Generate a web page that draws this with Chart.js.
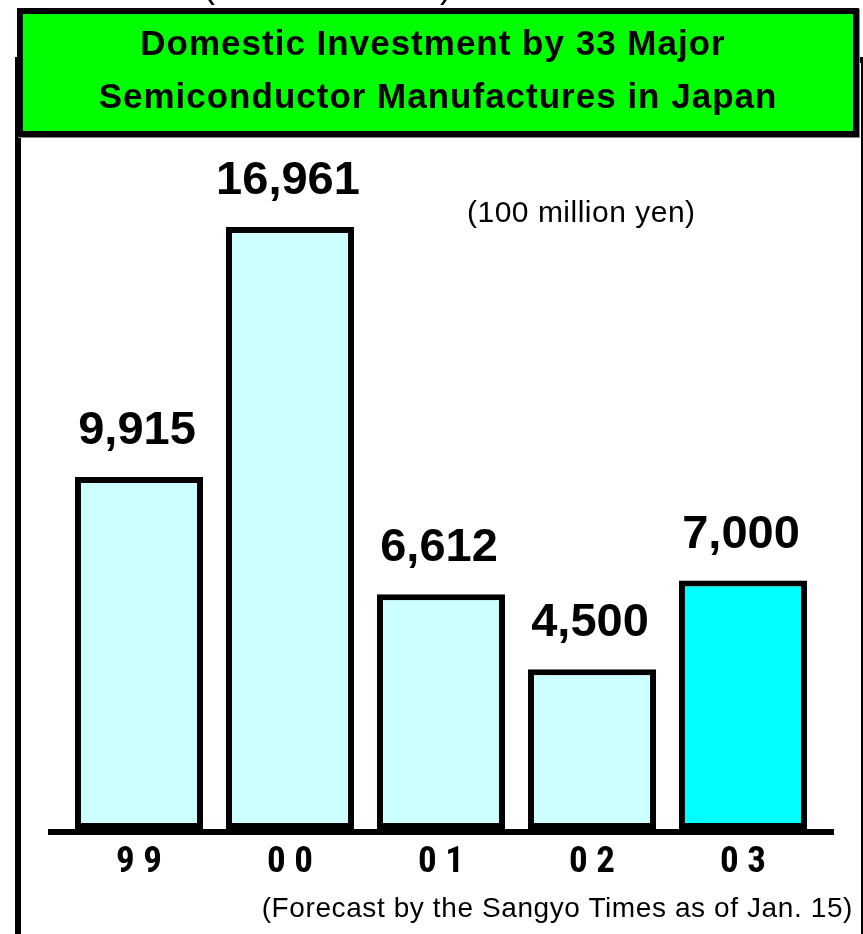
<!DOCTYPE html>
<html>
<head>
<meta charset="utf-8">
<script src="https://cdn.jsdelivr.net/npm/chart.js@4.4.1/dist/chart.umd.min.js"></script>
<style>
html,body{margin:0;padding:0;background:#fff;width:863px;height:934px;overflow:hidden;}
body{position:relative;font-family:'Liberation Sans',Arial,Helvetica,sans-serif;color:#000;}
#frame{position:absolute;left:15px;top:57px;width:852px;height:1000px;border:6px solid #000;box-sizing:border-box;}
#wrap{position:absolute;left:0;top:0;width:863px;height:934px;}
#titlebox{position:absolute;left:17px;top:8px;width:842px;height:129px;box-sizing:border-box;border:6px solid #000;background:#00ff00;box-shadow:1px 1px 0 #888;}
.tl{position:absolute;left:12px;width:842px;text-align:center;font-weight:bold;font-size:35px;line-height:35px;letter-spacing:1px;white-space:nowrap;}
.par{position:absolute;top:-33px;font-size:36px;line-height:36px;}
#unit{position:absolute;left:467px;top:197px;font-size:30px;line-height:30px;letter-spacing:0.5px;white-space:nowrap;}
#note{position:absolute;right:10px;top:894px;font-size:28px;line-height:28px;letter-spacing:0.6px;white-space:nowrap;}
</style>
</head>
<body>
<div id="frame"></div>
<div id="wrap"><canvas id="c" width="863" height="934"></canvas></div>
<span class="par" style="left:203px">(</span><span class="par" style="left:440px">)</span>
<div id="titlebox"></div>
<div class="tl" style="top:25px">Domestic Investment by 33 Major</div>
<div class="tl" style="top:78px;left:17px">Semiconductor Manufactures in Japan</div>
<div id="unit">(100 million yen)</div>
<div id="note">(Forecast by the Sangyo Times as of Jan. 15)</div>
<script>
// ---- data ----
const categories = ['99', '00', '01', '02', '03'];
const tickLabels = ['9 9', '0 0', '0 1', '0 2', '0 3'];
const investment = [9915, 16961, 6612, 4500, 7000];
const barColors = ['#ccffff', '#ccffff', '#ccffff', '#ccffff', '#00ffff'];

const decoPlugin = {
  id: 'deco',
  afterDatasetsDraw(chart) {
    const ctx = chart.ctx;
    const xs = chart.scales.x, ys = chart.scales.y;
    const meta = chart.getDatasetMeta(0);
    ctx.save();
    const y0 = ys.getPixelForValue(0);
    ctx.fillStyle = '#000';
    ctx.fillRect(xs.left - 15.5, y0, (xs.right - xs.left) + 31, 6);
    ctx.font = 'bold 47px "Liberation Sans", Arial, sans-serif';
    ctx.textAlign = 'center';
    ctx.textBaseline = 'alphabetic';
    meta.data.forEach((bar, i) => {
      ctx.fillText(investment[i].toLocaleString('en-US'), bar.x - 2, bar.y - 33);
    });
    ctx.restore();
  }
};

new Chart(document.getElementById('c'), {
  type: 'bar',
  data: {
    labels: categories,
    datasets: [{
      data: investment,
      backgroundColor: barColors,
      borderColor: '#000',
      borderWidth: 6,
      borderSkipped: false,
      categoryPercentage: 1,
      barPercentage: 0.848
    }]
  },
  options: {
    responsive: false,
    devicePixelRatio: 1,
    animation: false,
    layout: { padding: { left: 63.5, right: 44.5, top: 154.5, bottom: 36.6 } },
    plugins: { legend: { display: false }, tooltip: { enabled: false }, title: { display: false } },
    scales: {
      x: {
        grid: { display: false, drawTicks: false },
        border: { display: false },
        ticks: {
          padding: 12,
          color: '#000',
          font: { family: "'Roboto Condensed', 'Liberation Sans', Arial, sans-serif", size: 37, weight: 'bold' },
          callback: (v, i) => tickLabels[i]
        }
      },
      y: { display: false, min: 0, max: 19000 }
    }
  },
  plugins: [decoPlugin]
});
</script>
</body>
</html>
